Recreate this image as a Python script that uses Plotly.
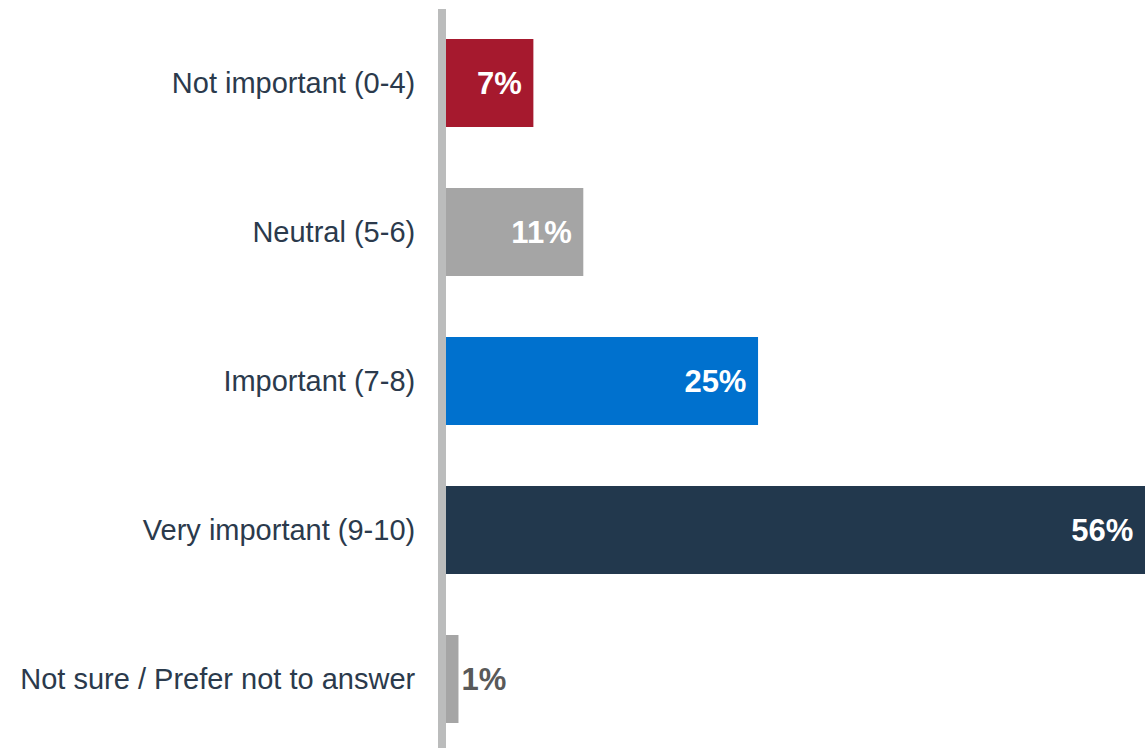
import plotly.graph_objects as go

categories = [
    "Not important (0-4)",
    "Neutral (5-6)",
    "Important (7-8)",
    "Very important (9-10)",
    "Not sure / Prefer not to answer",
]
values = [7, 11, 25, 56, 1]
bar_colors = ["#a6192e", "#a5a5a5", "#0071ce", "#22384d", "#a5a5a5"]
label_colors = ["#ffffff", "#ffffff", "#ffffff", "#ffffff", "#595959"]
label_positions = ["inside", "inside", "inside", "inside", "outside"]

# inside labels sit a little away from the bar end
NBSP = "\u00a0"
labels = [
    f"{v}%" + (NBSP if pos == "inside" else "")
    for v, pos in zip(values, label_positions)
]

fig = go.Figure(
    go.Bar(
        x=values,
        y=categories,
        orientation="h",
        width=0.59,
        marker=dict(color=bar_colors, line=dict(width=0)),
        text=labels,
        textposition=label_positions,
        insidetextanchor="end",
        textangle=0,
        constraintext="none",
        cliponaxis=False,
        textfont=dict(family="Liberation Sans, Arial, sans-serif", size=31,
                      color=label_colors, weight="bold"),
        hoverinfo="skip",
    )
)

fig.update_layout(
    width=1145,
    height=748,
    margin=dict(l=446, r=0, t=9, b=0),
    paper_bgcolor="white",
    plot_bgcolor="white",
    showlegend=False,
    font=dict(family="Liberation Sans, Arial, sans-serif"),
)
fig.update_xaxes(range=[0, 56], visible=False, fixedrange=True)
fig.update_yaxes(
    range=[4.463, -0.497],
    showline=True,
    linewidth=8,
    linecolor="#bbbcbc",
    showgrid=False,
    zeroline=False,
    ticks="",
    ticklabelstandoff=17,
    tickfont=dict(size=29, color="#2b3a4c"),
    fixedrange=True,
)

fig.write_html("out.html", config={"displayModeBar": False})
